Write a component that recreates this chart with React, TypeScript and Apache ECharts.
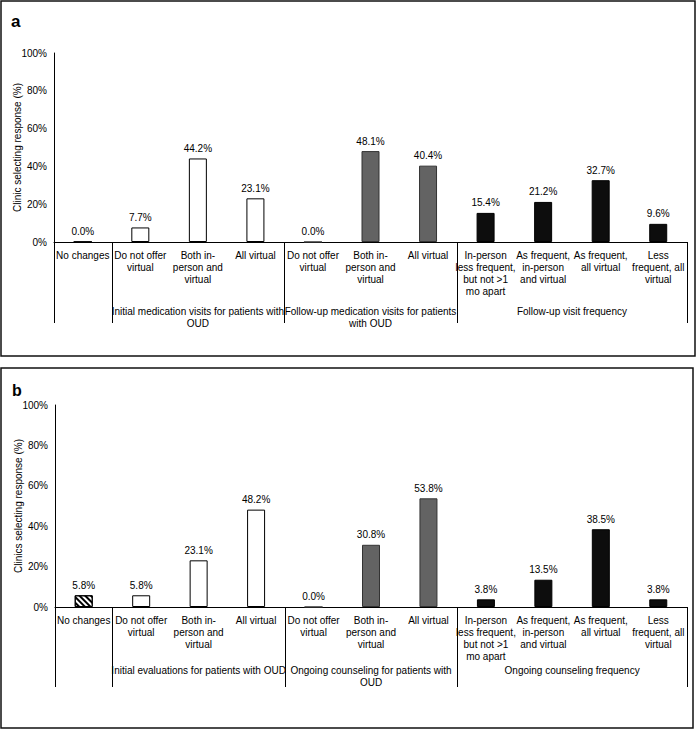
import React, { useEffect, useRef } from "react";
import * as echarts from "echarts";

const categories = [
  "No changes",
  "Do not offer\nvirtual",
  "Both in-\nperson and\nvirtual",
  "All virtual",
  "Do not offer\nvirtual",
  "Both in-\nperson and\nvirtual",
  "All virtual",
  "In-person\nless frequent,\nbut not >1\nmo apart",
  "As frequent,\nin-person\nand virtual",
  "As frequent,\nall virtual",
  "Less\nfrequent, all\nvirtual",
];
const valuesA = [0.0, 7.7, 44.2, 23.1, 0.0, 48.1, 40.4, 15.4, 21.2, 32.7, 9.6];
const valuesB = [5.8, 5.8, 23.1, 48.2, 0.0, 30.8, 53.8, 3.8, 13.5, 38.5, 3.8];
const barKinds = ["hatch", "open", "open", "open", "gray", "gray", "gray", "black", "black", "black", "black"];
const groupBoundaries = [0, 1, 4, 7, 11];
const groupLabelsA = [
  "",
  "Initial medication visits for patients with\nOUD",
  "Follow-up medication visits for patients\nwith OUD",
  "Follow-up visit frequency",
];
const groupLabelsB = [
  "",
  "Initial evaluations for patients with OUD",
  "Ongoing counseling for patients with\nOUD",
  "Ongoing counseling frequency",
];
const yTitleA = "Clinic selecting response (%)";
const yTitleB = "Clinics selecting response (%)";
const yMin = 0;
const yMax = 100;
const yStep = 20;

const FONT = "'Liberation Sans', Arial, sans-serif";

function itemStyleFor(kind: string) {
  if (kind === "open") return { color: "#ffffff", borderColor: "#000000", borderWidth: 1 };
  if (kind === "gray") return { color: "#636363", borderColor: "#333333", borderWidth: 1 };
  if (kind === "black") return { color: "#0d0d0d", borderColor: "#000000", borderWidth: 1 };
  return {
    color: "#ffffff",
    borderColor: "#000000",
    borderWidth: 1,
    decal: {
      symbol: "rect",
      symbolSize: 1,
      dashArrayX: [1, 0],
      dashArrayY: [2, 2],
      rotation: Math.PI / 4,
      color: "#000000",
      backgroundColor: "#ffffff",
    },
  };
}

function makeSeries(values: number[], idx: number) {
  return {
    type: "bar",
    xAxisIndex: idx,
    yAxisIndex: idx,
    barWidth: 18,
    data: values.map((v, i) => ({ value: v, itemStyle: itemStyleFor(barKinds[i]) })),
    label: {
      show: true,
      position: "top",
      distance: 5,
      color: "#000",
      fontSize: 10,
      fontFamily: FONT,
      formatter: (p: any) => Number(p.value).toFixed(1) + "%",
    },
  };
}

function xAxisFor(idx: number) {
  return {
    type: "category",
    gridIndex: idx,
    data: categories,
    axisLine: { show: true, lineStyle: { color: "#000", width: 1 } },
    axisTick: { show: false },
    axisLabel: {
      interval: 0,
      color: "#000",
      fontSize: 10,
      fontFamily: FONT,
      lineHeight: 12,
      margin: 7,
      align: "center",
      verticalAlign: "top",
    },
  };
}

function yAxisFor(idx: number, name: string) {
  return {
    type: "value",
    gridIndex: idx,
    min: yMin,
    max: yMax,
    interval: yStep,
    name,
    nameLocation: "middle",
    nameGap: 32,
    nameMoveOverlap: false,
    nameTextStyle: { color: "#000", fontSize: 10, fontFamily: FONT },
    axisLine: { show: true, lineStyle: { color: "#000", width: 1 } },
    axisTick: { show: false },
    splitLine: { show: false },
    axisLabel: {
      color: "#000",
      fontSize: 10,
      fontFamily: FONT,
      margin: 7,
      formatter: (v: number) => v + "%",
    },
  };
}

function overlay(chart: any, gridIndex: number, labels: string[], tickLen: number, labelOffset: number) {
  const els: any[] = [];
  const n = categories.length;
  const c0 = chart.convertToPixel({ gridIndex }, [0, 0]);
  const c1 = chart.convertToPixel({ gridIndex }, [1, 0]);
  const bw = c1[0] - c0[0];
  const axisY = c0[1];
  const edge = (i: number) => {
    if (i < n) return chart.convertToPixel({ gridIndex }, [i, 0])[0] - bw / 2;
    return chart.convertToPixel({ gridIndex }, [n - 1, 0])[0] + bw / 2;
  };
  groupBoundaries.forEach((b) => {
    const x = Math.round(edge(b)) + 0.5;
    els.push({
      type: "line",
      shape: { x1: x, y1: axisY, x2: x, y2: axisY + tickLen },
      style: { stroke: "#000", lineWidth: 1 },
      silent: true,
    });
  });
  for (let k = 0; k < groupBoundaries.length - 1; k++) {
    const txt = labels[k];
    if (!txt) continue;
    const cx = (edge(groupBoundaries[k]) + edge(groupBoundaries[k + 1])) / 2;
    els.push({
      type: "text",
      x: cx,
      y: axisY + labelOffset,
      style: {
        text: txt,
        fill: "#000",
        fontSize: 10,
        fontFamily: FONT,
        lineHeight: 12,
        align: "center",
        verticalAlign: "top",
      },
      silent: true,
    });
  }
  return els;
}

export default function App() {
  const ref = useRef<HTMLDivElement>(null);
  useEffect(() => {
    if (!ref.current) return;
    const chart = echarts.init(ref.current, undefined, { renderer: "svg" });
    chart.setOption({
      animation: false,
      backgroundColor: "#ffffff",
      grid: [
        { left: 54, right: 10, top: 53, height: 189, outerBoundsMode: "none", containLabel: false },
        { left: 55, right: 10, top: 405, height: 202, outerBoundsMode: "none", containLabel: false },
      ],
      xAxis: [xAxisFor(0), xAxisFor(1)],
      yAxis: [yAxisFor(0, yTitleA), yAxisFor(1, yTitleB)],
      series: [makeSeries(valuesA, 0), makeSeries(valuesB, 1)],
    });
    const graphics: any[] = [
      {
        type: "rect",
        shape: { x: 1, y: 1, width: 694, height: 355 },
        style: { fill: "none", stroke: "#111", lineWidth: 1.5 },
        silent: true,
      },
      {
        type: "rect",
        shape: { x: 1, y: 368, width: 692, height: 360 },
        style: { fill: "none", stroke: "#111", lineWidth: 1.5 },
        silent: true,
      },
      {
        type: "text",
        x: 11,
        y: 21,
        style: { text: "a", fill: "#000", fontSize: 17, fontWeight: "bold", fontFamily: FONT, verticalAlign: "middle" },
        silent: true,
      },
      {
        type: "text",
        x: 12,
        y: 390,
        style: { text: "b", fill: "#000", fontSize: 16, fontWeight: "bold", fontFamily: FONT, verticalAlign: "middle" },
        silent: true,
      },
      ...overlay(chart, 0, groupLabelsA, 81, 63),
      ...overlay(chart, 1, groupLabelsB, 80, 57),
    ];
    chart.setOption({ graphic: graphics });
    return () => chart.dispose();
  }, []);
  return (
    <div
      ref={ref}
      style={{ position: "absolute", left: 0, top: 0, width: 697, height: 729, background: "#fff" }}
    />
  );
}
